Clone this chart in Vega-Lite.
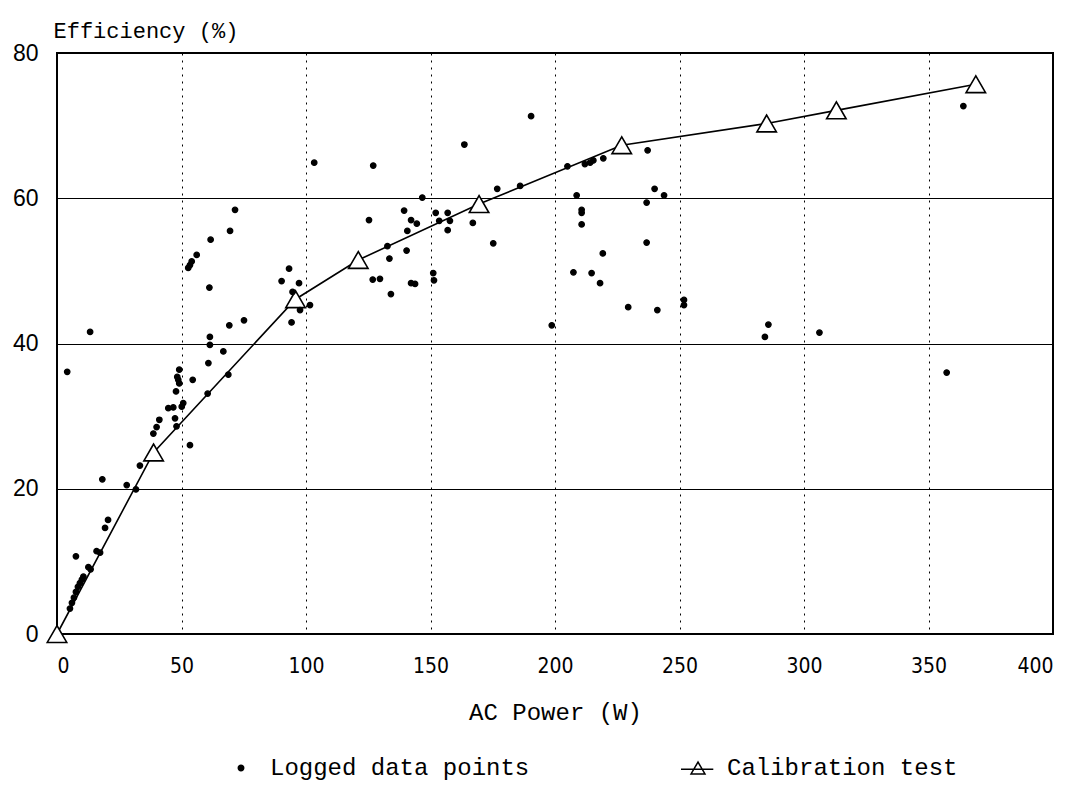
{
  "$schema": "https://vega.github.io/schema/vega-lite/v6.json",
  "width": 996,
  "height": 581,
  "autosize": "none",
  "padding": {"left": 57, "top": 53, "right": 24, "bottom": 152},
  "background": "white",
  "config": {
    "view": {"stroke": "black", "strokeWidth": 2},
    "axis": {"labelColor": "black", "titleColor": "black", "domain": false, "ticks": false, "gridColor": "black", "gridOpacity": 1},
    "legend": {"padding": 0, "rowPadding": 0}
  },
  "datasets": {
    "calib": [
      {"P": 0, "E": 0},
      {"P": 38.8, "E": 25},
      {"P": 95.8, "E": 46.1},
      {"P": 121, "E": 51.5},
      {"P": 169.5, "E": 59.2},
      {"P": 226.8, "E": 67.3},
      {"P": 285, "E": 70.3},
      {"P": 313, "E": 72.1},
      {"P": 369, "E": 75.7}
    ],
    "logged": [
      {"P": 4.1, "E": 36.1, "series": "Logged data points"},
      {"P": 13.3, "E": 41.6, "series": "Logged data points"},
      {"P": 5.2, "E": 3.5, "series": "Logged data points"},
      {"P": 6.0, "E": 4.3, "series": "Logged data points"},
      {"P": 6.8, "E": 5.0, "series": "Logged data points"},
      {"P": 7.6, "E": 5.8, "series": "Logged data points"},
      {"P": 8.4, "E": 6.5, "series": "Logged data points"},
      {"P": 9.2, "E": 7.0, "series": "Logged data points"},
      {"P": 10.0, "E": 7.5, "series": "Logged data points"},
      {"P": 10.6, "E": 7.9, "series": "Logged data points"},
      {"P": 7.6, "E": 10.7, "series": "Logged data points"},
      {"P": 12.6, "E": 9.2, "series": "Logged data points"},
      {"P": 13.5, "E": 8.9, "series": "Logged data points"},
      {"P": 15.9, "E": 11.4, "series": "Logged data points"},
      {"P": 17.3, "E": 11.2, "series": "Logged data points"},
      {"P": 19.3, "E": 14.6, "series": "Logged data points"},
      {"P": 20.5, "E": 15.7, "series": "Logged data points"},
      {"P": 18.2, "E": 21.3, "series": "Logged data points"},
      {"P": 28.0, "E": 20.5, "series": "Logged data points"},
      {"P": 31.7, "E": 19.9, "series": "Logged data points"},
      {"P": 33.3, "E": 23.2, "series": "Logged data points"},
      {"P": 38.7, "E": 27.6, "series": "Logged data points"},
      {"P": 40.0, "E": 28.5, "series": "Logged data points"},
      {"P": 41.1, "E": 29.5, "series": "Logged data points"},
      {"P": 44.7, "E": 31.1, "series": "Logged data points"},
      {"P": 46.7, "E": 31.2, "series": "Logged data points"},
      {"P": 47.4, "E": 29.7, "series": "Logged data points"},
      {"P": 48.0, "E": 28.6, "series": "Logged data points"},
      {"P": 50.1, "E": 31.3, "series": "Logged data points"},
      {"P": 50.7, "E": 31.8, "series": "Logged data points"},
      {"P": 47.8, "E": 33.4, "series": "Logged data points"},
      {"P": 48.7, "E": 35.0, "series": "Logged data points"},
      {"P": 49.1, "E": 34.5, "series": "Logged data points"},
      {"P": 49.1, "E": 36.4, "series": "Logged data points"},
      {"P": 48.3, "E": 35.4, "series": "Logged data points"},
      {"P": 54.5, "E": 35.0, "series": "Logged data points"},
      {"P": 53.4, "E": 26.0, "series": "Logged data points"},
      {"P": 60.5, "E": 33.1, "series": "Logged data points"},
      {"P": 60.8, "E": 37.3, "series": "Logged data points"},
      {"P": 61.4, "E": 40.9, "series": "Logged data points"},
      {"P": 61.4, "E": 39.8, "series": "Logged data points"},
      {"P": 66.8, "E": 38.9, "series": "Logged data points"},
      {"P": 68.8, "E": 35.7, "series": "Logged data points"},
      {"P": 69.2, "E": 42.5, "series": "Logged data points"},
      {"P": 75.1, "E": 43.2, "series": "Logged data points"},
      {"P": 94.2, "E": 42.9, "series": "Logged data points"},
      {"P": 71.5, "E": 58.4, "series": "Logged data points"},
      {"P": 69.5, "E": 55.5, "series": "Logged data points"},
      {"P": 61.7, "E": 54.3, "series": "Logged data points"},
      {"P": 56.1, "E": 52.2, "series": "Logged data points"},
      {"P": 54.1, "E": 51.3, "series": "Logged data points"},
      {"P": 53.4, "E": 50.8, "series": "Logged data points"},
      {"P": 52.7, "E": 50.4, "series": "Logged data points"},
      {"P": 61.2, "E": 47.7, "series": "Logged data points"},
      {"P": 103.3, "E": 64.9, "series": "Logged data points"},
      {"P": 127.0, "E": 64.5, "series": "Logged data points"},
      {"P": 125.3, "E": 57.0, "series": "Logged data points"},
      {"P": 93.2, "E": 50.3, "series": "Logged data points"},
      {"P": 90.2, "E": 48.6, "series": "Logged data points"},
      {"P": 97.2, "E": 48.3, "series": "Logged data points"},
      {"P": 94.6, "E": 47.1, "series": "Logged data points"},
      {"P": 97.6, "E": 44.6, "series": "Logged data points"},
      {"P": 101.6, "E": 45.3, "series": "Logged data points"},
      {"P": 126.8, "E": 48.8, "series": "Logged data points"},
      {"P": 129.7, "E": 48.9, "series": "Logged data points"},
      {"P": 163.6, "E": 67.4, "series": "Logged data points"},
      {"P": 190.4, "E": 71.3, "series": "Logged data points"},
      {"P": 205.0, "E": 64.4, "series": "Logged data points"},
      {"P": 186.0, "E": 61.7, "series": "Logged data points"},
      {"P": 176.8, "E": 61.3, "series": "Logged data points"},
      {"P": 146.7, "E": 60.1, "series": "Logged data points"},
      {"P": 208.7, "E": 60.4, "series": "Logged data points"},
      {"P": 139.4, "E": 58.3, "series": "Logged data points"},
      {"P": 142.2, "E": 57.0, "series": "Logged data points"},
      {"P": 144.5, "E": 56.5, "series": "Logged data points"},
      {"P": 152.1, "E": 58.0, "series": "Logged data points"},
      {"P": 156.9, "E": 58.0, "series": "Logged data points"},
      {"P": 153.5, "E": 56.9, "series": "Logged data points"},
      {"P": 157.8, "E": 56.9, "series": "Logged data points"},
      {"P": 156.9, "E": 55.6, "series": "Logged data points"},
      {"P": 140.7, "E": 55.5, "series": "Logged data points"},
      {"P": 167.0, "E": 56.6, "series": "Logged data points"},
      {"P": 132.7, "E": 53.4, "series": "Logged data points"},
      {"P": 140.4, "E": 52.8, "series": "Logged data points"},
      {"P": 175.2, "E": 53.8, "series": "Logged data points"},
      {"P": 133.5, "E": 51.7, "series": "Logged data points"},
      {"P": 207.4, "E": 49.8, "series": "Logged data points"},
      {"P": 142.2, "E": 48.3, "series": "Logged data points"},
      {"P": 143.8, "E": 48.2, "series": "Logged data points"},
      {"P": 151.1, "E": 49.7, "series": "Logged data points"},
      {"P": 151.4, "E": 48.7, "series": "Logged data points"},
      {"P": 134.1, "E": 46.8, "series": "Logged data points"},
      {"P": 198.7, "E": 42.5, "series": "Logged data points"},
      {"P": 212.0, "E": 64.7, "series": "Logged data points"},
      {"P": 214.1, "E": 64.9, "series": "Logged data points"},
      {"P": 215.4, "E": 65.2, "series": "Logged data points"},
      {"P": 219.4, "E": 65.5, "series": "Logged data points"},
      {"P": 237.2, "E": 66.6, "series": "Logged data points"},
      {"P": 240.0, "E": 61.3, "series": "Logged data points"},
      {"P": 243.8, "E": 60.4, "series": "Logged data points"},
      {"P": 236.8, "E": 59.4, "series": "Logged data points"},
      {"P": 210.7, "E": 58.4, "series": "Logged data points"},
      {"P": 210.7, "E": 58.0, "series": "Logged data points"},
      {"P": 210.7, "E": 56.4, "series": "Logged data points"},
      {"P": 236.8, "E": 53.9, "series": "Logged data points"},
      {"P": 219.2, "E": 52.4, "series": "Logged data points"},
      {"P": 214.7, "E": 49.7, "series": "Logged data points"},
      {"P": 218.1, "E": 48.3, "series": "Logged data points"},
      {"P": 229.4, "E": 45.0, "series": "Logged data points"},
      {"P": 241.1, "E": 44.6, "series": "Logged data points"},
      {"P": 251.8, "E": 46.0, "series": "Logged data points"},
      {"P": 251.8, "E": 45.3, "series": "Logged data points"},
      {"P": 285.7, "E": 42.6, "series": "Logged data points"},
      {"P": 284.3, "E": 40.9, "series": "Logged data points"},
      {"P": 306.2, "E": 41.5, "series": "Logged data points"},
      {"P": 364.0, "E": 72.7, "series": "Logged data points"},
      {"P": 357.3, "E": 36.0, "series": "Logged data points"}
    ]
  },
  "encoding": {
    "x": {
      "field": "P", "type": "quantitative",
      "scale": {"domain": [0, 400], "nice": false, "zero": false},
      "axis": {
        "values": [0, 50, 100, 150, 200, 250, 300, 350, 400],
        "grid": true, "gridDash": [2, 5], "gridWidth": 1,
        "labelFont": "Liberation Sans Narrow, DejaVu Sans Condensed, Liberation Sans",
        "labelFontSize": 21, "labelPadding": 21, "labelBaseline": "top",
        "title": "AC Power (W)", "titleFont": "Liberation Mono", "titleFontSize": 24, "titleFontWeight": "normal",
        "titleY": 85, "titleBaseline": "alphabetic"
      }
    },
    "y": {
      "field": "E", "type": "quantitative",
      "scale": {"domain": [0, 80], "nice": false},
      "axis": {
        "values": [0, 20, 40, 60, 80],
        "grid": true, "gridWidth": 1.2,
        "labelFont": "Liberation Sans", "labelFontSize": 23, "labelPadding": 19,
        "title": "Efficiency (%)", "titleFont": "Liberation Mono", "titleFontSize": 22, "titleFontWeight": "normal",
        "titleAngle": 0, "titleAlign": "left", "titleBaseline": "alphabetic", "titleX": -4, "titleY": -16
      }
    }
  },
  "layer": [
    {
      "data": {"name": "calib"},
      "mark": {"type": "line", "color": "black", "strokeWidth": 1.6}
    },
    {
      "data": {"name": "calib"},
      "mark": {"type": "point", "shape": "triangle-up", "filled": false, "color": "black", "size": 380, "strokeWidth": 1.6, "opacity": 1, "fill": "white", "fillOpacity": 1}
    },
    {
      "data": {"name": "logged"},
      "mark": {"type": "point", "filled": false, "size": 289, "opacity": 1, "strokeWidth": 1.3, "fillOpacity": 1, "strokeOpacity": 1},
      "encoding": {
        "shape": {
          "field": "series", "type": "nominal",
          "scale": {"domain": ["Logged data points", "Calibration test"], "range": ["M-0.32,0A0.32,0.32 0 1,0 0.32,0A0.32,0.32 0 1,0 -0.32,0Z", "M-2,0.15L1.8,0.15M0,-0.7L-0.82,0.7L0.82,0.7Z"]},
          "legend": {
            "orient": "none", "legendX": 172, "legendY": 703, "direction": "horizontal", "columns": 2,
            "title": null, "labelFont": "Liberation Mono", "labelFontSize": 24, "labelColor": "black", "labelLimit": 500,
            "symbolSize": 289, "symbolStrokeWidth": 1.5, "labelOffset": 17, "columnPadding": 148
          }
        },
        "fill": {
          "field": "series", "type": "nominal",
          "scale": {"domain": ["Logged data points", "Calibration test"], "range": ["black", "white"]},
          "legend": {
            "orient": "none", "legendX": 172, "legendY": 703, "direction": "horizontal", "columns": 2,
            "title": null, "labelFont": "Liberation Mono", "labelFontSize": 24, "labelColor": "black", "labelLimit": 500,
            "symbolSize": 289, "symbolStrokeWidth": 1.5, "labelOffset": 17, "columnPadding": 148
          }
        },
        "stroke": {
          "field": "series", "type": "nominal",
          "scale": {"domain": ["Logged data points", "Calibration test"], "range": ["black", "#000001"]},
          "legend": {
            "orient": "none", "legendX": 172, "legendY": 703, "direction": "horizontal", "columns": 2,
            "title": null, "labelFont": "Liberation Mono", "labelFontSize": 24, "labelColor": "black", "labelLimit": 500,
            "symbolSize": 289, "symbolStrokeWidth": 1.5, "labelOffset": 17, "columnPadding": 148
          }
        }
      }
    }
  ]
}
